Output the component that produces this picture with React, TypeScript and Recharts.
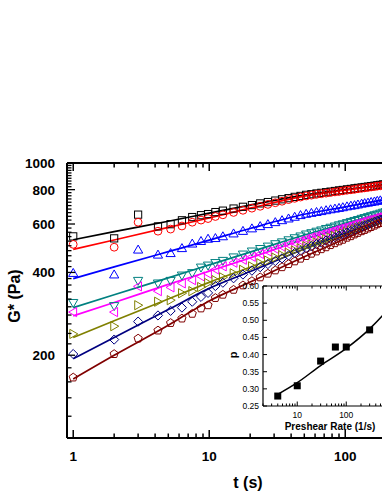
import { ComposedChart, Line, Scatter, XAxis, YAxis } from 'recharts';

// time points (s) shared by all eight G* series
const tSec = [1, 2, 3, 4.2, 5.2, 6.3, 7.5, 8.7, 9.8, 11.1, 12.6, 15.1, 17.7, 20.6, 23.7, 27, 30.6, 34.3, 38.3, 42.5, 46.9, 51.6, 56.4, 61.5, 66.7, 72.3, 78, 84, 90, 96, 103, 110, 117, 124, 132, 139, 147, 155, 164, 172, 181, 190, 199];

const gBlack = [541, 532, 649, 588, 599, 619, 636, 646, 652, 663, 671, 683, 693, 703, 713, 721, 730, 738, 745, 753, 759, 766, 770, 775, 779, 783, 787, 791, 795, 798, 802, 805, 809, 812, 815, 818, 821, 824, 827, 830, 833, 836, 838];
const gRed = [506, 494, 609, 565, 575, 590, 609, 620, 628, 639, 648, 661, 673, 685, 696, 707, 717, 726, 736, 744, 752, 759, 764, 769, 773, 777, 781, 785, 788, 792, 796, 799, 802, 806, 809, 812, 815, 818, 821, 824, 826, 829, 832];
const gBlue = [398, 393, 484, 464, 470, 490, 509, 520, 530, 533, 541, 554, 566, 578, 589, 599, 609, 619, 628, 637, 646, 653, 658, 663, 668, 673, 678, 682, 686, 690, 695, 699, 702, 706, 711, 714, 717, 721, 724, 728, 731, 734, 737];
const gTeal = [310, 302, 373, 365, 373, 390, 398, 417, 424, 433, 441, 454, 465, 477, 487, 497, 507, 515, 524, 533, 541, 550, 556, 563, 569, 576, 582, 588, 594, 599, 605, 611, 616, 621, 627, 631, 636, 641, 646, 650, 655, 660, 664];
const gMagenta = [287, 287, 356, 342, 353, 365, 375, 387, 396, 410, 421, 434, 445, 456, 467, 477, 487, 496, 505, 513, 521, 530, 537, 544, 550, 557, 563, 570, 576, 581, 587, 593, 599, 604, 610, 615, 620, 624, 630, 634, 639, 644, 648];
const gOlive = [239, 255, 304, 313, 317, 336, 342, 354, 366, 375, 384, 397, 409, 421, 432, 442, 453, 462, 472, 481, 490, 499, 506, 514, 521, 528, 535, 542, 548, 554, 561, 567, 573, 579, 585, 590, 596, 601, 607, 612, 617, 622, 627];
const gNavy = [202, 228, 265, 279, 290, 298, 313, 326, 337, 357, 367, 381, 393, 406, 418, 429, 440, 450, 461, 471, 480, 490, 498, 507, 514, 522, 530, 537, 544, 551, 559, 566, 572, 579, 586, 591, 598, 604, 610, 616, 622, 628, 633];
const gWine = [166, 202, 230, 246, 262, 272, 283, 296, 304, 323, 332, 346, 359, 372, 384, 396, 407, 418, 429, 439, 449, 459, 468, 477, 486, 494, 503, 511, 519, 526, 535, 542, 550, 557, 565, 571, 578, 585, 592, 599, 605, 612, 618];

// fitted curves
const fitT = [1, 2, 5, 10, 20, 50, 100, 200, 400];
const fitBlack = [526, 563, 614, 657, 703, 764, 800, 838, 877];
const fitRed = [485, 525, 583, 631, 685, 758, 796, 832, 871];
const fitBlue = [380, 419, 476, 524, 578, 651, 693, 738, 785];
const fitTeal = [298, 332, 382, 426, 474, 547, 603, 664, 732];
const fitMagenta = [278, 311, 362, 404, 452, 527, 585, 649, 720];
const fitOlive = [232, 267, 320, 368, 418, 496, 558, 628, 706];
const fitNavy = [194, 232, 293, 350, 403, 487, 556, 634, 724];
const fitWine = [164, 200, 257, 315, 369, 456, 531, 619, 721];

const xTicks = [1, 2, 3, 4, 5, 6, 7, 8, 9, 10, 20, 30, 40, 50, 60, 70, 80, 90, 100, 200, 300, 400];
const xLabels = [1, 10, 100];
const yTicks = [100, 120, 140, 160, 180, 200, 220, 240, 260, 280, 300, 320, 340, 360, 380, 400, 420, 440, 460, 480, 500, 520, 540, 560, 580, 600, 620, 640, 660, 680, 700, 720, 740, 760, 780, 800, 820, 840, 860, 880, 900, 920, 940, 960, 980, 1000];
const yLabels = [200, 400, 600, 800, 1000];

// inset: exponent p vs preshear rate
const rate = [4, 10, 30, 60, 100, 300];
const pVals = [0.279, 0.309, 0.381, 0.422, 0.422, 0.472];
const fitRate = [4, 10, 30, 100, 300, 600, 1000, 2000];
const fitP = [0.284, 0.318, 0.368, 0.418, 0.475, 0.52, 0.56, 0.63];
const insetXTicks = [2, 3, 4, 5, 6, 7, 8, 9, 10, 20, 30, 40, 50, 60, 70, 80, 90, 100, 200, 300, 400, 500, 600, 700, 800, 900, 1000, 2000];
const insetXMajor = [10, 100, 1000];
const insetXLabels = [10, 100];
const insetYTicks = [0.25, 0.3, 0.35, 0.4, 0.45, 0.5, 0.55, 0.6];

const FONT = "'Liberation Sans', Arial, sans-serif";

type MarkerKind = 'square' | 'circle' | 'up' | 'down' | 'left' | 'right' | 'diamond' | 'pentagon';

const series: { id: string; color: string; marker: MarkerKind; vals: number[]; fit: number[] }[] = [
  { id: 'black', color: '#000000', marker: 'square', vals: gBlack, fit: fitBlack },
  { id: 'red', color: '#ff0000', marker: 'circle', vals: gRed, fit: fitRed },
  { id: 'blue', color: '#0000ff', marker: 'up', vals: gBlue, fit: fitBlue },
  { id: 'teal', color: '#008080', marker: 'down', vals: gTeal, fit: fitTeal },
  { id: 'magenta', color: '#ff00ff', marker: 'left', vals: gMagenta, fit: fitMagenta },
  { id: 'olive', color: '#808000', marker: 'right', vals: gOlive, fit: fitOlive },
  { id: 'navy', color: '#000080', marker: 'diamond', vals: gNavy, fit: fitNavy },
  { id: 'wine', color: '#800000', marker: 'pentagon', vals: gWine, fit: fitWine },
];

function Marker({ cx, cy, kind, color }: { cx: number; cy: number; kind: MarkerKind; color: string }) {
  const st = { fill: 'none', stroke: color, strokeWidth: 1 };
  const r = 4.6;
  const poly = (pts: number[][]) => pts.map(([a, b]) => `${cx + a},${cy + b}`).join(' ');
  switch (kind) {
    case 'square':
      return <rect x={cx - 3.6} y={cy - 3.6} width={7.2} height={7.2} {...st} />;
    case 'circle':
      return <circle cx={cx} cy={cy} r={3.9} {...st} />;
    case 'up':
      return <polygon points={poly([[0, -r], [r, 3.4], [-r, 3.4]])} {...st} />;
    case 'down':
      return <polygon points={poly([[0, r], [r, -3.4], [-r, -3.4]])} {...st} />;
    case 'left':
      return <polygon points={poly([[-r, 0], [3.4, -r], [3.4, r]])} {...st} />;
    case 'right':
      return <polygon points={poly([[r, 0], [-3.4, -r], [-3.4, r]])} {...st} />;
    case 'diamond':
      return <polygon points={poly([[0, -r], [r, 0], [0, r], [-r, 0]])} {...st} />;
    default: {
      const pts = [0, 1, 2, 3, 4].map((k) => {
        const a = ((k * 72 - 90) * Math.PI) / 180;
        return [4.3 * Math.cos(a), 4.3 * Math.sin(a)];
      });
      return <polygon points={poly(pts)} {...st} />;
    }
  }
}

function BottomTick(props: any) {
  const { x, y, payload } = props;
  const major = xLabels.includes(payload.value);
  return (
    <g>
      <line x1={x} x2={x} y1={y} y2={y - (major ? 8 : 4.5)} stroke="#000" strokeWidth={1.5} />
      {major && (
        <text x={x} y={y + 23} textAnchor="middle" fontSize={13.5} fontWeight="bold" fontFamily={FONT} fill="#000">
          {payload.value}
        </text>
      )}
    </g>
  );
}

function TopTick(props: any) {
  const { x, y, payload } = props;
  const major = xLabels.includes(payload.value);
  return <line x1={x} x2={x} y1={y} y2={y + (major ? 8 : 4.5)} stroke="#000" strokeWidth={1.5} />;
}

function LeftTick(props: any) {
  const { x, y, payload } = props;
  const major = yLabels.includes(payload.value);
  return (
    <g>
      <line x1={x} x2={x + (major ? 8 : 4.5)} y1={y} y2={y} stroke="#000" strokeWidth={1.3} />
      {major && (
        <text x={x - 12} y={y + 5} textAnchor="end" fontSize={13.5} fontWeight="bold" fontFamily={FONT} fill="#000">
          {payload.value}
        </text>
      )}
    </g>
  );
}

function InsetBottomTick(props: any) {
  const { x, y, payload } = props;
  const major = insetXMajor.includes(payload.value);
  return (
    <g>
      <line x1={x} x2={x} y1={y} y2={y - (major ? 4.5 : 2.5)} stroke="#000" strokeWidth={1} />
      {insetXLabels.includes(payload.value) && (
        <text x={x} y={y + 12} textAnchor="middle" fontSize={8.5} fontFamily={FONT} fill="#000">
          {payload.value}
        </text>
      )}
    </g>
  );
}

function InsetTopTick(props: any) {
  const { x, y, payload } = props;
  const major = insetXMajor.includes(payload.value);
  return <line x1={x} x2={x} y1={y} y2={y + (major ? 4.5 : 2.5)} stroke="#000" strokeWidth={1} />;
}

function InsetLeftTick(props: any) {
  const { x, y, payload } = props;
  return (
    <g>
      <line x1={x} x2={x + 4} y1={y} y2={y} stroke="#000" strokeWidth={1} />
      <text x={x - 4} y={y + 3} textAnchor="end" fontSize={8.5} fontFamily={FONT} fill="#000">
        {payload.value.toFixed(2)}
      </text>
    </g>
  );
}

export default function App() {
  const toPts = (xs: number[], ys: number[]) => xs.map((t, i) => ({ t, g: ys[i] }));
  const insetPts = rate.map((r, i) => ({ r, p: pVals[i] }));
  const insetFit = fitRate.map((r, i) => ({ r, p: fitP[i] }));

  return (
    <div style={{ position: 'absolute', left: 0, top: 0, width: 382, height: 494, overflow: 'hidden', background: '#fff' }}>
      {/* main chart */}
      <div style={{ position: 'absolute', left: 0, top: 0 }}>
        <ComposedChart width={430} height={494} margin={{ top: 133, right: 0, bottom: 26, left: 0 }}>
          <XAxis
            xAxisId="b" dataKey="t" type="number" scale="log" domain={[0.9, 420]} allowDataOverflow
            ticks={xTicks} interval={0} tickSize={0} tickMargin={0} height={30}
            axisLine={{ stroke: '#000', strokeWidth: 2 }} tickLine={false} tick={(p: any) => <BottomTick {...p} />}
          />
          <XAxis
            xAxisId="t" orientation="top" dataKey="t" type="number" scale="log" domain={[0.9, 420]} allowDataOverflow
            ticks={xTicks} interval={0} tickSize={0} tickMargin={0} height={30}
            axisLine={{ stroke: '#000', strokeWidth: 2 }} tickLine={false} tick={(p: any) => <TopTick {...p} />}
          />
          <YAxis
            yAxisId="l" dataKey="g" type="number" scale="log" domain={[100, 1000]} allowDataOverflow
            ticks={yTicks} interval={0} tickSize={0} tickMargin={0} width={67}
            axisLine={{ stroke: '#000', strokeWidth: 2 }} tickLine={false} tick={(p: any) => <LeftTick {...p} />}
          />
          {series.map((s) => (
            <Scatter
              key={`s-${s.id}`} xAxisId="b" yAxisId="l" dataKey="g" data={toPts(tSec, s.vals)}
              isAnimationActive={false}
              shape={(p: any) => <Marker cx={p.cx} cy={p.cy} kind={s.marker} color={s.color} />}
            />
          ))}
          {series.map((s) => (
            <Line
              key={`l-${s.id}`} xAxisId="b" yAxisId="l" dataKey="g" data={toPts(fitT, s.fit)}
              type="monotone" stroke={s.color} strokeWidth={1.7} dot={false} isAnimationActive={false}
            />
          ))}
        </ComposedChart>
      </div>

      {/* inset */}
      <div style={{ position: 'absolute', left: 200, top: 240 }}>
        <ComposedChart width={210} height={200} margin={{ top: 16, right: 0, bottom: 4, left: 0 }}>
          <XAxis
            xAxisId="b" dataKey="r" type="number" scale="log" domain={[2, 2000]} allowDataOverflow
            ticks={insetXTicks} interval={0} tickSize={0} tickMargin={0} height={30}
            axisLine={{ stroke: '#000', strokeWidth: 1.2 }} tickLine={false} tick={(p: any) => <InsetBottomTick {...p} />}
          />
          <XAxis
            xAxisId="t" orientation="top" dataKey="r" type="number" scale="log" domain={[2, 2000]} allowDataOverflow
            ticks={insetXTicks} interval={0} tickSize={0} tickMargin={0} height={30}
            axisLine={{ stroke: '#000', strokeWidth: 1.2 }} tickLine={false} tick={(p: any) => <InsetTopTick {...p} />}
          />
          <YAxis
            yAxisId="l" dataKey="p" type="number" domain={[0.25, 0.6]} allowDataOverflow
            ticks={insetYTicks} interval={0} tickSize={0} tickMargin={0} width={63}
            axisLine={{ stroke: '#000', strokeWidth: 1.2 }} tickLine={false} tick={(p: any) => <InsetLeftTick {...p} />}
          />
          <Scatter
            xAxisId="b" yAxisId="l" dataKey="p" data={insetPts} isAnimationActive={false}
            shape={(p: any) => <rect x={p.cx - 3.5} y={p.cy - 3.5} width={7} height={7} fill="#000" />}
          />
          <Line
            xAxisId="b" yAxisId="l" dataKey="p" data={insetFit} type="monotone"
            stroke="#000" strokeWidth={1.5} dot={false} isAnimationActive={false}
          />
        </ComposedChart>
      </div>

      {/* axis titles */}
      <div style={{ position: 'absolute', left: 15, top: 296, transform: 'translate(-50%, -50%) rotate(-90deg)', whiteSpace: 'nowrap', fontFamily: FONT, fontWeight: 'bold', fontSize: 16 }}>
        G* (Pa)
      </div>
      <div style={{ position: 'absolute', left: 248, top: 483, transform: 'translate(-50%, -50%)', whiteSpace: 'nowrap', fontFamily: FONT, fontWeight: 'bold', fontSize: 16 }}>
        t (s)
      </div>
      <div style={{ position: 'absolute', left: 233, top: 355, transform: 'translate(-50%, -50%) rotate(-90deg)', whiteSpace: 'nowrap', fontFamily: FONT, fontWeight: 'bold', fontSize: 11 }}>
        p
      </div>
      <div style={{ position: 'absolute', left: 330, top: 426, transform: 'translate(-50%, -50%)', whiteSpace: 'nowrap', fontFamily: FONT, fontWeight: 'bold', fontSize: 10 }}>
        Preshear Rate (1/s)
      </div>
    </div>
  );
}
